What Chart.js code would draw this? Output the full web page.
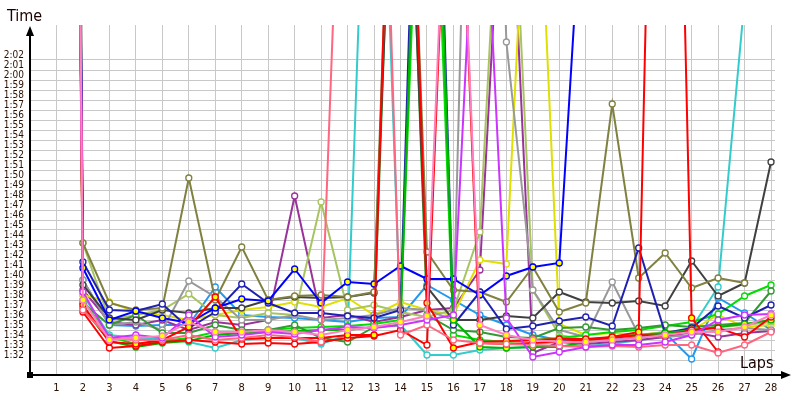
<!DOCTYPE html>
<html>
<head>
<meta charset="utf-8">
<script src="https://cdn.jsdelivr.net/npm/chart.js@4.4.0/dist/chart.umd.min.js"></script>
<style>
html, body { margin: 0; padding: 0; background: #fff; }
#wrap { width: 800px; height: 400px; }
</style>
</head>
<body>
<div id="wrap"><canvas id="lapChart" width="800" height="400"></canvas></div>
<script>
const laps = [1, 2, 3, 4, 5, 6, 7, 8, 9, 10, 11, 12, 13, 14, 15, 16, 17, 18, 19, 20, 21, 22, 23, 24, 25, 26, 27, 28];
const yTicks = [92, 93, 94, 95, 96, 97, 98, 99, 100, 101, 102, 103, 104, 105, 106, 107, 108, 109, 110, 111, 112, 113, 114, 115, 116, 117, 118, 119, 120, 121, 122];

// lap times in seconds (lap 1 includes the start, way off the top)
const olive   = [400, 103.7, 97.7, 97.0, 97.2, 110.2, 98.0, 103.3, 98.0, 98.4, 98.5, 98.3, 98.8, 172, 102.8, 99.0, 98.8, 97.8, 101.3, 96.8, 97.7, 117.6, 100.2, 102.7, 99.2, 100.2, 99.7, null];
const dark    = [390, 99.5, 96.2, 96.0, 97.0, 96.7, 97.2, 97.2, 98.0, 98.3, 98.2, 98.3, 98.7, 165, 99.3, 96.0, 96.0, 96.4, 96.2, 98.8, 97.8, 97.7, 97.9, 97.4, 101.9, 98.4, 99.7, 111.8];
const blue    = [410, 101.2, 96.0, 96.9, 96.2, 95.7, 97.2, 98.1, 97.9, 101.1, 97.7, 99.8, 99.6, 101.4, 100.1, 100.1, 98.5, 100.4, 101.3, 101.7, 145, null, null, null, null, null, null, null];
const navy    = [420, 101.8, 97.0, 96.9, 97.6, 95.2, 96.8, 99.6, 97.7, 96.7, 96.7, 96.4, 96.2, 97.0, 183, 95.5, 98.8, 95.1, 95.4, 95.9, 96.3, 95.4, 103.2, 94.7, 95.2, 97.4, 96.2, 97.5];
const red     = [380, 96.8, 93.2, 93.4, 93.8, 94.0, 93.8, 93.6, 93.7, 93.6, 93.8, 94.2, 94.4, 95.0, 93.5, 160, 93.7, 93.6, 93.7, 93.8, 94.0, 94.2, 94.5, 94.4, 95.0, 95.2, 94.3, 96.3];
const redY    = [395, 97.5, 93.8, 93.6, 94.0, 95.3, 98.3, 94.1, 94.2, 94.2, 94.2, 94.5, 94.5, 180, 97.7, 93.2, 93.8, 93.9, 94.0, 94.1, 94.1, 94.3, 94.8, 213, 96.2, 92.8, null, null];
const green   = [405, 97.2, 93.9, 93.3, 93.7, 93.9, 94.5, 94.7, 94.8, 94.9, 95.0, 95.0, 95.3, 95.5, 175, 96.0, 93.3, 93.2, 93.3, 93.3, 93.8, 94.3, 94.5, 94.7, 95.0, 95.3, 95.6, 96.0];
const dkgreen = [385, 97.7, 95.5, 96.5, 94.7, 94.7, 95.5, 95.0, 95.0, 95.5, 94.2, 93.8, 95.3, 170, 96.5, 95.0, 94.8, 94.3, 94.2, 95.2, 95.3, 95.0, 95.2, 95.5, 95.3, 95.5, 95.7, 98.9];
const lime    = [415, 98.0, 94.3, 93.6, 93.9, 94.2, 94.8, 94.6, 95.0, 95.2, 95.3, 95.4, 95.6, 96.0, 165, 94.5, 94.0, 93.8, 94.0, 94.2, 94.5, 94.8, 95.0, 95.4, 95.8, 96.6, 98.4, 99.5];
const grey    = [375, 100.0, 95.5, 95.8, 95.0, 99.9, 98.3, 96.0, 96.0, 96.5, 96.0, 96.2, 96.5, 97.2, 97.0, 96.0, 200, 123.8, 99.0, 95.0, 94.3, 99.8, 94.5, 94.3, 94.5, 95.0, 95.2, 95.0];
const ltgreen = [388, 103.7, 96.0, 96.5, 97.0, 98.6, 96.5, 96.2, 96.7, 96.5, 107.8, 97.0, 97.5, 96.8, 96.3, 97.0, 104.8, 155, 99.0, 94.5, 94.0, 94.3, 94.5, 94.8, 95.0, 95.3, 95.5, 95.8];
const yellow  = [398, 98.5, 97.8, 96.8, 96.5, 96.0, 96.5, 97.0, 97.3, 97.8, 97.3, 98.2, 96.5, 97.8, 97.0, 96.5, 102.0, 101.6, 155, 95.6, 94.5, 94.7, 94.5, 94.8, 95.0, 96.5, 95.3, 95.5];
const purple  = [392, 99.0, 95.8, 95.5, 96.0, 95.0, 95.8, 95.5, 96.0, 108.4, 96.2, 96.5, 95.8, 96.3, 97.0, 97.2, 101.0, 150, 92.7, 93.8, 93.6, 93.8, 94.0, 94.3, 94.8, 94.3, 94.7, 94.9];
const magenta = [402, 98.8, 94.2, 94.5, 94.2, 96.5, 94.3, 94.5, 94.8, 94.6, 95.0, 95.3, 95.2, 95.5, 96.0, 96.5, 150, 96.2, 92.3, 92.8, 93.3, 93.5, 93.5, 93.8, 94.5, 96.0, 96.5, 96.6];
const cyan    = [408, 98.5, 94.5, 94.2, 94.2, 93.8, 93.2, 94.0, 94.2, 94.2, 93.6, 94.5, 170, 95.5, 92.5, 92.5, 93.0, 93.2, 93.3, 93.4, 93.4, 93.6, 94.0, 94.3, 95.2, 99.3, 128, null];
const ltblue  = [378, 100.0, 95.5, 95.4, 95.5, 95.5, 99.3, 96.5, 96.3, 96.2, 96.0, 95.8, 96.2, 96.3, 99.5, 98.0, 96.5, 95.5, 94.5, 94.0, 93.8, 94.0, 94.3, 94.7, 92.1, 98.2, 96.7, 95.0];
const salmon  = [383, 97.0, 94.2, 94.0, 94.0, 94.5, 94.0, 94.2, 94.5, 94.3, 93.8, 165, 180, 94.5, 95.5, 94.0, 93.7, 93.6, 93.5, 93.4, 93.3, 93.4, 93.3, 93.5, 93.5, 92.7, 93.5, 94.8];
const pink    = [412, 98.0, 94.0, 94.2, 94.4, 95.8, 94.8, 94.8, 95.0, 94.8, 94.5, 95.0, 95.3, 95.8, 96.4, 160, 95.5, 94.5, 94.0, 93.8, 93.8, 94.0, 94.2, 94.5, 94.8, 94.8, 95.3, 96.5];

// first entries are drawn on top
const series = [
    { data: pink,    color: '#ff80c0', fill: '#ffff00' },
    { data: magenta, color: '#cc33ff', fill: '#ffffff' },
    { data: salmon,  color: '#ff6680', fill: '#ffffff' },
    { data: redY,    color: '#ff0000', fill: '#ffff00' },
    { data: red,     color: '#ff0000', fill: '#ffffff' },
    { data: green,   color: '#00b400', fill: '#ffff00' },
    { data: blue,    color: '#0000ff', fill: '#ffff00' },
    { data: navy,    color: '#2020b0', fill: '#ffffff' },
    { data: olive,   color: '#808040', fill: '#ffffff' },
    { data: dark,    color: '#404040', fill: '#ffffff' },
    { data: dkgreen, color: '#339933', fill: '#ffffff' },
    { data: lime,    color: '#00dd00', fill: '#ffffff' },
    { data: grey,    color: '#999999', fill: '#ffffff' },
    { data: ltgreen, color: '#a8c460', fill: '#ffffff' },
    { data: yellow,  color: '#e0e000', fill: '#ffffff' },
    { data: purple,  color: '#993399', fill: '#ffffff' },
    { data: cyan,    color: '#33cccc', fill: '#ffffff' },
    { data: ltblue,  color: '#2299ee', fill: '#ffffff' }
];

function fmtTime(s) {
    const m = Math.floor(s / 60);
    const sec = Math.round(s - m * 60);
    return m + ':' + (sec < 10 ? '0' : '') + sec;
}

const fontFam = "'DejaVu Sans Condensed', 'DejaVu Sans', sans-serif";

// axis lines with arrows + axis titles
const axisDeco = {
    id: 'axisDeco',
    afterDraw(chart) {
        const c = chart.ctx;
        const a = chart.chartArea;
        c.save();
        c.strokeStyle = '#000';
        c.fillStyle = '#000';
        c.lineWidth = 2;
        c.beginPath();
        c.moveTo(a.left, a.bottom);
        c.lineTo(a.left, a.top + 8);
        c.moveTo(a.left, a.bottom);
        c.lineTo(786, a.bottom);
        c.stroke();
        c.beginPath();
        c.moveTo(a.left, a.top + 1);
        c.lineTo(a.left - 4, a.top + 11);
        c.lineTo(a.left + 4, a.top + 11);
        c.closePath();
        c.fill();
        c.beginPath();
        c.moveTo(791, a.bottom);
        c.lineTo(781, a.bottom - 4);
        c.lineTo(781, a.bottom + 4);
        c.closePath();
        c.fill();
        c.fillRect(a.left - 3, a.bottom - 3, 6, 6);
        c.fillStyle = '#1a0000';
        c.font = '16px ' + fontFam;
        c.textBaseline = 'alphabetic';
        c.fillText('Time', 7, 21);
        c.fillText('Laps', 740, 368);
        c.restore();
    }
};

const ctx = document.getElementById('lapChart').getContext('2d');
const lapChart = new Chart(ctx, {
    type: 'line',
    data: {
        datasets: series.map(s => ({
            data: laps.map((l, i) => ({ x: l, y: s.data[i] })),
            borderColor: s.color,
            backgroundColor: s.fill,
            pointBackgroundColor: s.fill,
            pointBorderColor: s.color,
            pointRadius: 3,
            pointBorderWidth: 1.3,
            borderWidth: 2,
            tension: 0,
            fill: false
        }))
    },
    options: {
        responsive: false,
        animation: false,
        layout: { padding: { top: 25, right: 25, left: 0, bottom: 0 } },
        plugins: {
            legend: { display: false },
            tooltip: { enabled: false }
        },
        scales: {
            x: {
                type: 'linear',
                min: 0,
                max: 28.15,
                afterBuildTicks: scale => { scale.ticks = laps.map(v => ({ value: v })); },
                afterFit: scale => { scale.height = 25; },
                border: { display: false },
                grid: { color: '#c8c8c8', lineWidth: 1, drawTicks: false },
                ticks: {
                    autoSkip: false,
                    maxRotation: 0,
                    padding: 7,
                    color: '#2a1000',
                    font: { family: fontFam, size: 11 },
                    callback: v => String(v)
                }
            },
            y: {
                type: 'linear',
                min: 90.5,
                max: 125.5,
                afterBuildTicks: scale => { scale.ticks = yTicks.map(v => ({ value: v })); },
                afterFit: scale => { scale.width = 30; },
                border: { display: false },
                grid: { color: '#c8c8c8', lineWidth: 1, drawTicks: false },
                ticks: {
                    autoSkip: false,
                    padding: 6,
                    labelOffset: -5,
                    color: '#2a1000',
                    font: { family: fontFam, size: 10 },
                    callback: v => fmtTime(v)
                }
            }
        }
    },
    plugins: [axisDeco]
});
</script>
</body>
</html>
